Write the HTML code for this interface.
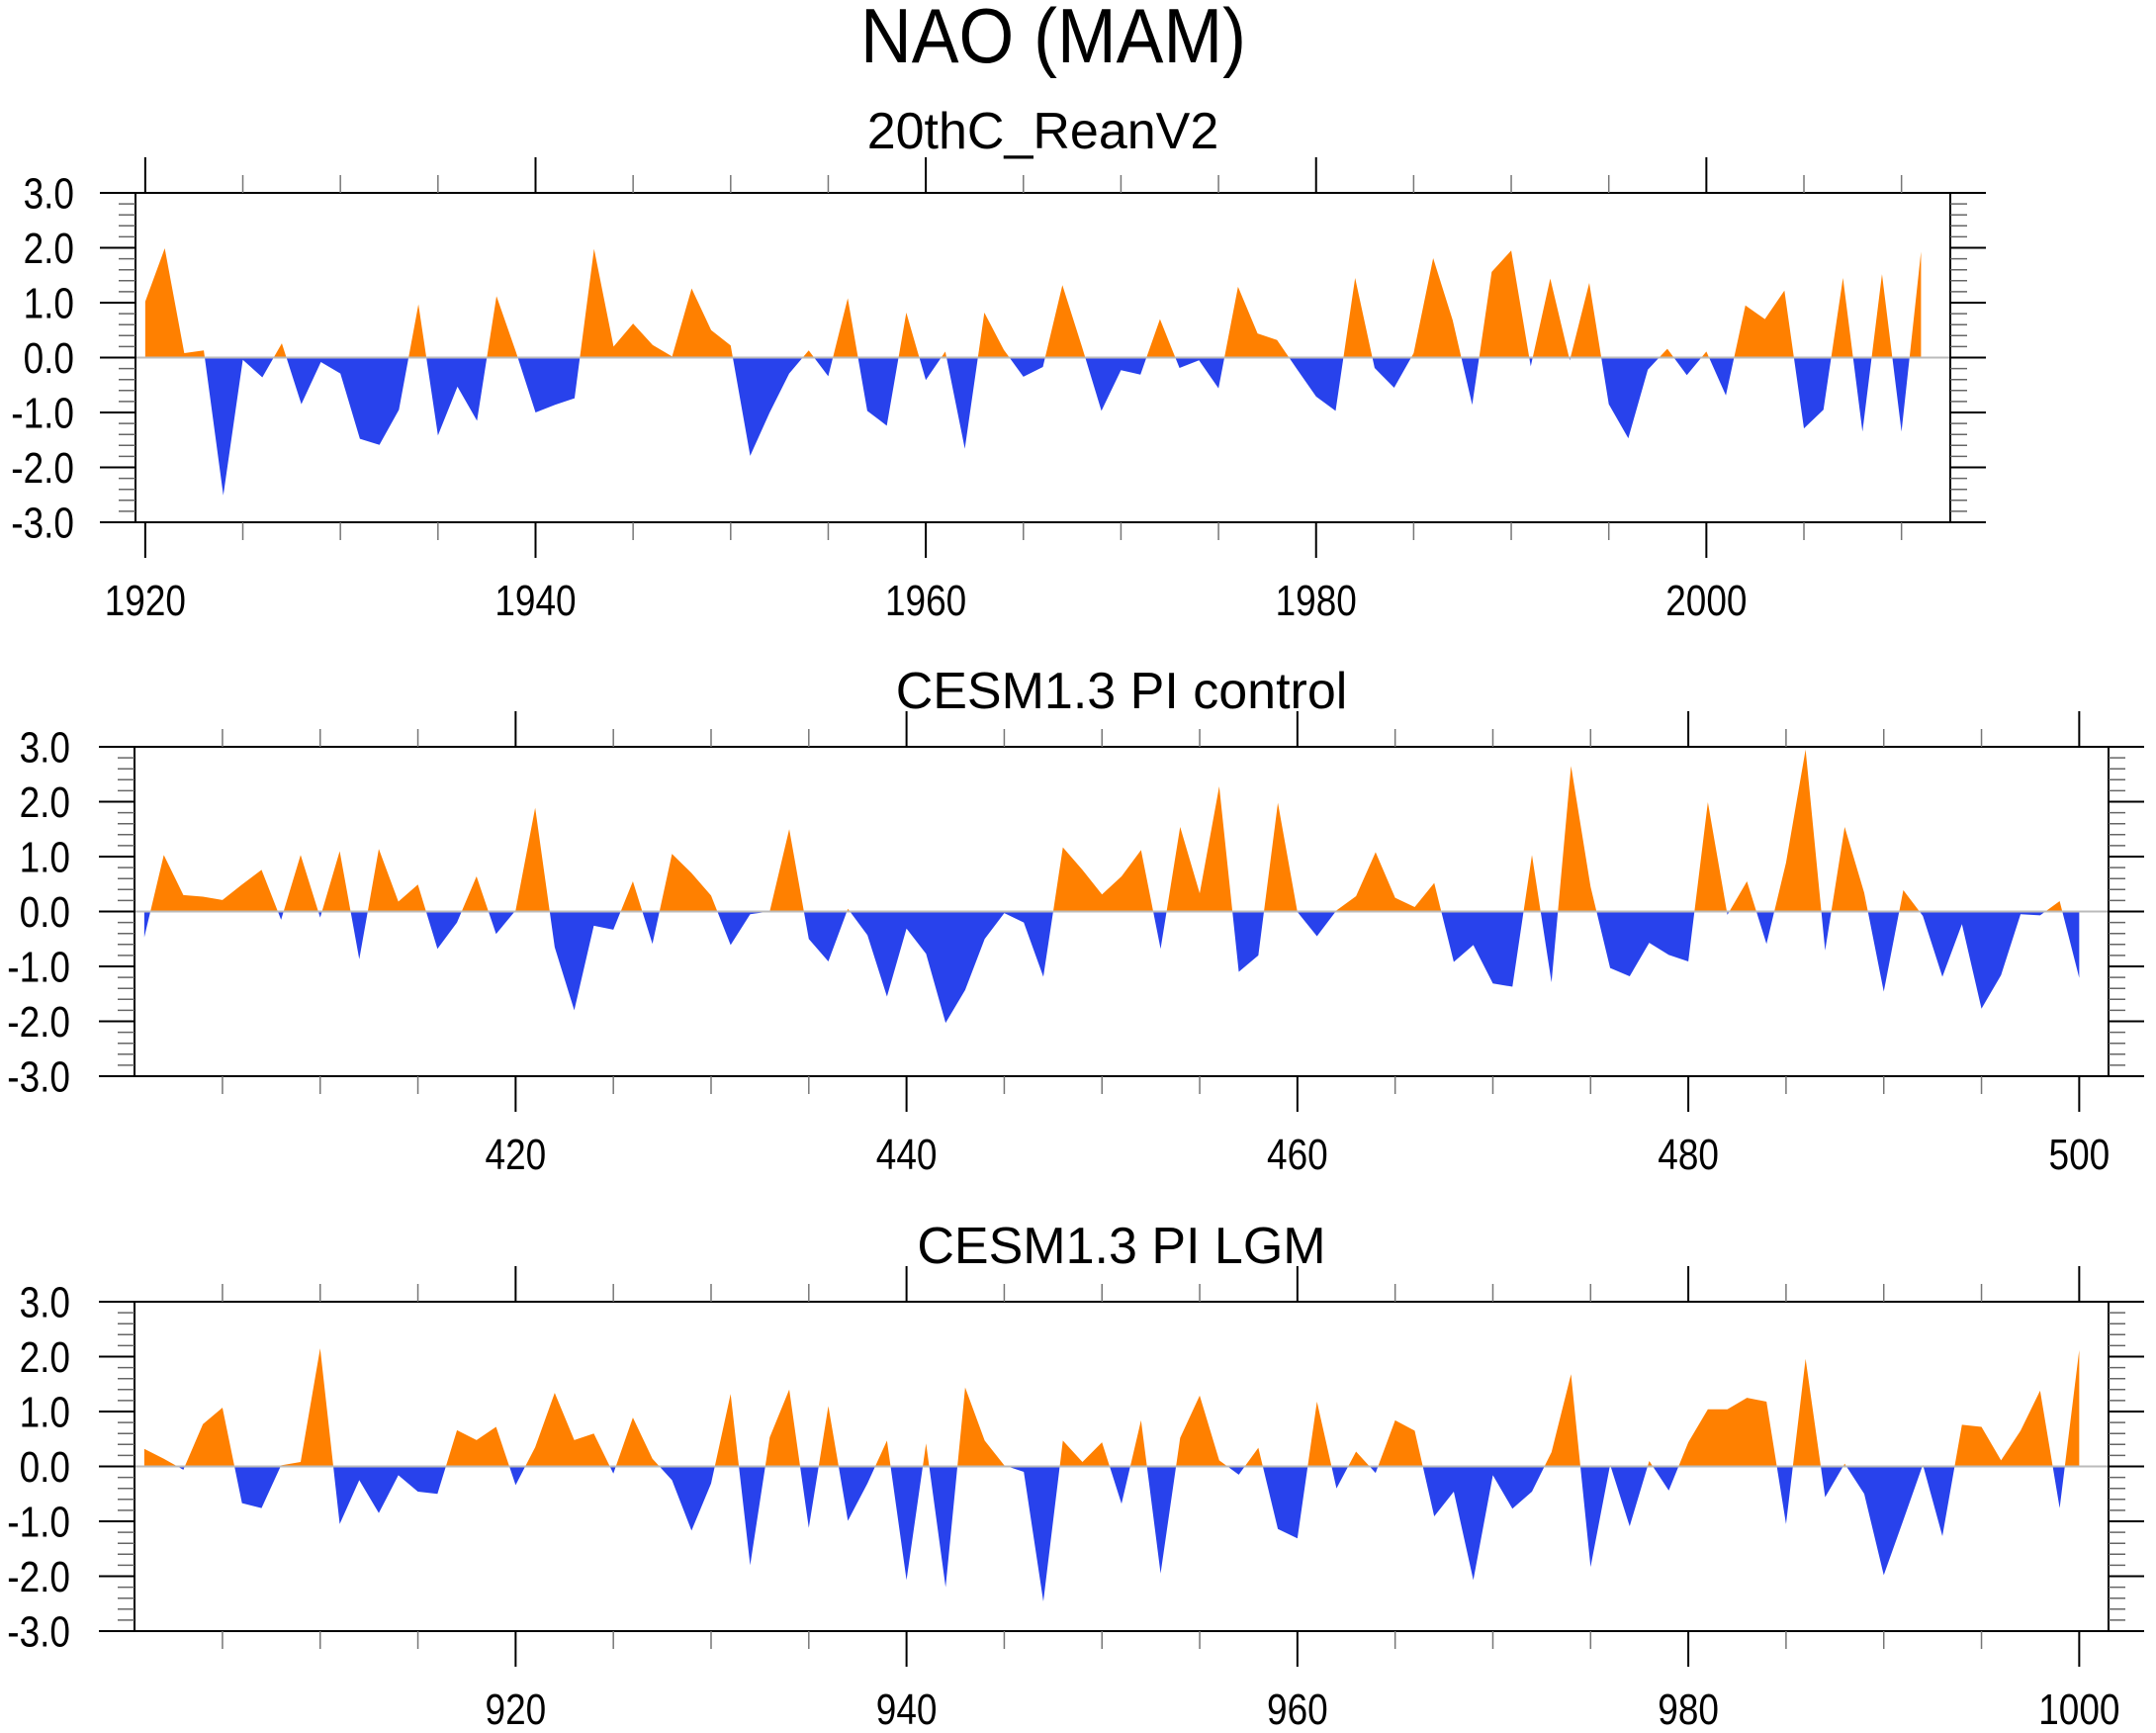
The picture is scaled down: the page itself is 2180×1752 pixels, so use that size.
<!DOCTYPE html>
<html><head><meta charset="utf-8"><style>
html,body{margin:0;padding:0;background:#fff;}
svg{display:block;font-family:"Liberation Sans",Arial,sans-serif;}
</style></head><body>
<svg id="chart" width="2180" height="1752" viewBox="0 0 2180 1752" xmlns="http://www.w3.org/2000/svg">
<text x="1065" y="63" font-size="78" text-anchor="middle" textLength="390" lengthAdjust="spacingAndGlyphs">NAO (MAM)</text>
</svg>
<script>
const reanYears0 = 1920;
const reanValues = [1.02,1.99,0.08,0.13,-2.51,-0.04,-0.36,0.26,-0.85,-0.08,
-0.29,-1.48,-1.59,-0.95,0.97,-1.42,-0.53,-1.15,1.12,0.1,
-1.0,-0.86,-0.74,1.98,0.2,0.62,0.23,0.02,1.26,0.50,
0.22,-1.79,-1.0,-0.29,0.13,-0.34,1.08,-0.97,-1.24,0.82,
-0.41,0.11,-1.66,0.82,0.14,-0.35,-0.17,1.32,0.2,-0.97,
-0.23,-0.31,0.70,-0.19,-0.05,-0.56,1.29,0.44,0.32,-0.2,
-0.71,-0.97,1.45,-0.19,-0.55,0.08,1.81,0.68,-0.86,1.56,
1.95,-0.16,1.44,-0.05,1.36,-0.85,-1.47,-0.22,0.16,-0.32,
0.11,-0.69,0.95,0.70,1.22,-1.29,-0.95,1.45,-1.35,1.52,
-1.35,1.93];
const ctrlYears0 = 401;
const ctrlValues = [-0.47,1.03,0.30,0.27,0.21,0.49,0.76,-0.15,1.03,-0.11,
1.10,-0.87,1.14,0.18,0.49,-0.68,-0.2,0.64,-0.41,0.02,
1.89,-0.65,-1.80,-0.26,-0.33,0.55,-0.59,1.05,0.70,0.29,
-0.61,-0.05,0.0,1.50,-0.50,-0.91,0.05,-0.43,-1.55,-0.31,
-0.77,-2.03,-1.43,-0.50,-0.03,-0.2,-1.19,1.17,0.76,0.31,
0.64,1.12,-0.68,1.54,0.33,2.28,-1.10,-0.80,1.98,-0.01,
-0.45,0.02,0.28,1.08,0.25,0.08,0.52,-0.92,-0.61,-1.31,
-1.37,1.03,-1.29,2.65,0.45,-1.03,-1.18,-0.57,-0.79,-0.91,
1.99,-0.06,0.55,-0.59,0.89,2.95,-0.71,1.54,0.34,-1.46,
0.39,-0.08,-1.19,-0.23,-1.77,-1.16,-0.05,-0.07,0.19,-1.21];
const lgmYears0 = 901;
const lgmValues = [0.32,0.14,-0.06,0.77,1.07,-0.67,-0.76,0.02,0.08,2.15,
-1.05,-0.25,-0.85,-0.16,-0.46,-0.50,0.66,0.48,0.72,-0.34,
0.35,1.34,0.48,0.60,-0.13,0.89,0.14,-0.25,-1.17,-0.31,
1.32,-1.80,0.53,1.40,-1.12,1.10,-0.99,-0.31,0.47,-2.07,
0.42,-2.20,1.44,0.47,0.02,-0.10,-2.46,0.47,0.08,0.44,
-0.68,0.84,-1.95,0.52,1.29,0.11,-0.15,0.34,-1.14,-1.31,
1.18,-0.40,0.27,-0.12,0.84,0.65,-0.91,-0.46,-2.07,-0.16,
-0.77,-0.46,0.26,1.68,-1.83,0.03,-1.09,0.10,-0.44,0.44,
1.04,1.04,1.25,1.18,-1.05,1.96,-0.56,0.05,-0.50,-1.98,
-0.98,0.03,-1.27,0.76,0.72,0.11,0.65,1.38,-0.76,2.12];
const yTickLabels = ["-3.0","-2.0","-1.0","0.0","1.0","2.0","3.0"];
const reanXLabels = ["1920","1940","1960","1980","2000"];
const ctrlXLabels = ["420","440","460","480","500"];
const lgmXLabels = ["920","940","960","980","1000"];

const NS="http://www.w3.org/2000/svg";
const svg=document.getElementById('chart');
function mk(tag,attrs,parent){const e=document.createElementNS(NS,tag);for(const k in attrs)e.setAttribute(k,attrs[k]);(parent||svg).appendChild(e);return e;}
function condense(t,f){const w=t.getComputedTextLength();if(w>0){t.setAttribute('textLength',(w*f).toFixed(1));t.setAttribute('lengthAdjust','spacingAndGlyphs');}}

function panel(cfg){
  const g=mk('g',{});
  
  
  const L=cfg.left,R=cfg.right,T=cfg.top,B=cfg.bottom;
  const x=v=>L+(v-cfg.xmin)/(cfg.xmax-cfg.xmin)*(R-L);
  const y=v=>T+(3-v)/6*(B-T);
  const vals=cfg.values, y0=cfg.start;
  const pos=[],neg=[];
  for(let i=0;i<vals.length;i++){
    const xi=y0+i, v=vals[i];
    if(i>0){const pv=vals[i-1];if((pv>0&&v<0)||(pv<0&&v>0)){const t=pv/(pv-v);const xc=xi-1+t;pos.push([xc,0]);neg.push([xc,0]);}}
    pos.push([xi,Math.max(v,0)]);neg.push([xi,Math.min(v,0)]);
  }
  function poly(pts,color,nm){
    let d='M'+x(pts[0][0]).toFixed(2)+','+y(0).toFixed(2);
    pts.forEach(p=>{d+='L'+x(p[0]).toFixed(2)+','+y(p[1]).toFixed(2);});
    d+='L'+x(pts[pts.length-1][0]).toFixed(2)+','+y(0).toFixed(2)+'Z';
    const p=mk('path',{d:d,fill:color},g);
    
    
  }
  poly(pos,'#ff8000',cfg.name+'-positive-area');
  poly(neg,'#2842ec',cfg.name+'-negative-area');
  const zl=mk('line',{x1:L,x2:R,y1:y(0),y2:y(0),stroke:'#bbbbbb','stroke-width':2},g);
  
  
  const fr=mk('rect',{x:L,y:T,width:R-L,height:B-T,fill:'none',stroke:'#000','stroke-width':2},g);
  
  
  for(let k=-15;k<=15;k++){
    const v=k*0.2, major=(k%5===0), len=major?36:17, yy=y(v);
    const col=major?'#000':'#666', w=major?2:1.5;
    mk('line',{x1:L-len,x2:L,y1:yy,y2:yy,stroke:col,'stroke-width':w},g);
    mk('line',{x1:R,x2:R+len,y1:yy,y2:yy,stroke:col,'stroke-width':w},g);
  }
  yTickLabels.forEach((lab,i)=>{
    const t=mk('text',{x:cfg.ylabx,y:y(i-3)+15.5,'font-size':44,'text-anchor':'end'},g);
    t.textContent=lab;
    
    
    condense(t,0.84);
  });
  const first=Math.ceil(cfg.xmin/5)*5;
  for(let v=first;v<=cfg.xmax;v+=5){
    const major=((v-cfg.majorBase)%20===0), len=major?36:18, xx=x(v);
    const col=major?'#000':'#777', w=major?2:1.5;
    mk('line',{x1:xx,x2:xx,y1:T-len,y2:T,stroke:col,'stroke-width':w},g);
    mk('line',{x1:xx,x2:xx,y1:B,y2:B+len,stroke:col,'stroke-width':w},g);
  }
  cfg.xlabels.forEach(lab=>{
    const t=mk('text',{x:x(parseFloat(lab)),y:B+94,'font-size':44,'text-anchor':'middle'},g);
    t.textContent=lab;
    
    
    condense(t,0.84);
  });
  const tt=mk('text',{x:(L+R)/2,y:cfg.titleY,'font-size':52,'text-anchor':'middle'},g);
  tt.textContent=cfg.title;
  
  
}
panel({name:'rean-panel',title:'20thC_ReanV2',values:reanValues,start:reanYears0,xmin:1919.5,xmax:2012.5,majorBase:1920,
  left:137,right:1972,top:195,bottom:528,ylabx:75,titleY:150,xlabels:reanXLabels});
panel({name:'control-panel',title:'CESM1.3 PI control',values:ctrlValues,start:ctrlYears0,xmin:400.5,xmax:501.5,majorBase:400,
  left:136,right:2132,top:755,bottom:1088,ylabx:71,titleY:716,xlabels:ctrlXLabels});
panel({name:'lgm-panel',title:'CESM1.3 PI LGM',values:lgmValues,start:lgmYears0,xmin:900.5,xmax:1001.5,majorBase:900,
  left:136,right:2132,top:1316,bottom:1649,ylabx:71,titleY:1277,xlabels:lgmXLabels});
</script>
</body></html>
